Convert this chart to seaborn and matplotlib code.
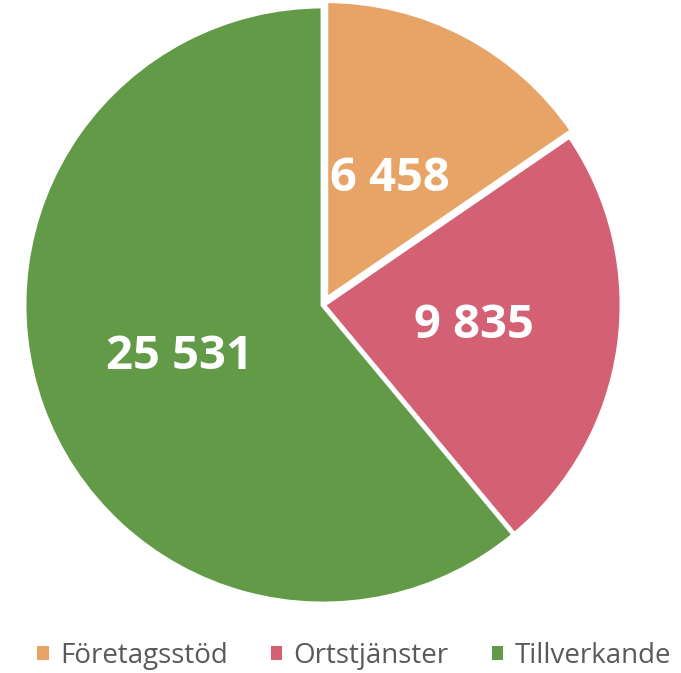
import matplotlib
matplotlib.use('Agg')
import matplotlib.pyplot as plt
import seaborn as sns

# data
categories = ['Företagsstöd', 'Ortstjänster', 'Tillverkande']
values = [6458, 9835, 25531]
colors = ['#E8A466', '#D46073', '#629A47']

sns.set_theme(style='white')
plt.rcParams['font.family'] = ['Open Sans', 'DejaVu Sans']

fig = plt.figure(figsize=(6.81, 6.73), dpi=100)
ax = fig.add_axes([24 / 681, 69 / 673, 598 / 681, 598 / 673])

total = sum(values)


def fmt(p):
    v = int(round(p * total / 100))
    return f'{v:,}'.replace(',', ' ')


wedges, texts, autotexts = ax.pie(
    values, colors=colors, startangle=90, counterclock=False,
    explode=[0.02, 0, 0], autopct=fmt, pctdistance=0.51,
    wedgeprops=dict(edgecolor='white', linewidth=3.5),
    textprops=dict(color='white', fontsize=34, fontweight='bold'))
# small slice label sits a bit closer to the centre
x0, y0 = autotexts[0].get_position()
autotexts[0].set_position((x0 * 0.9, y0 * 0.9))
ax.set_aspect('equal')
ax.set_xlim(-1.0, 1.0)
ax.set_ylim(-1.0, 1.0)

leg = fig.legend(wedges, categories, loc='center', bbox_to_anchor=(0.52, 17 / 673),
                 ncol=3, frameon=False, fontsize=20, handlelength=0.42, handleheight=0.42,
                 columnspacing=1.55, handletextpad=0.4)
for h in leg.legend_handles:
    h.set_edgecolor('none')
for t in leg.get_texts():
    t.set_color('#595959')

fig.savefig('out.png', dpi=100)
